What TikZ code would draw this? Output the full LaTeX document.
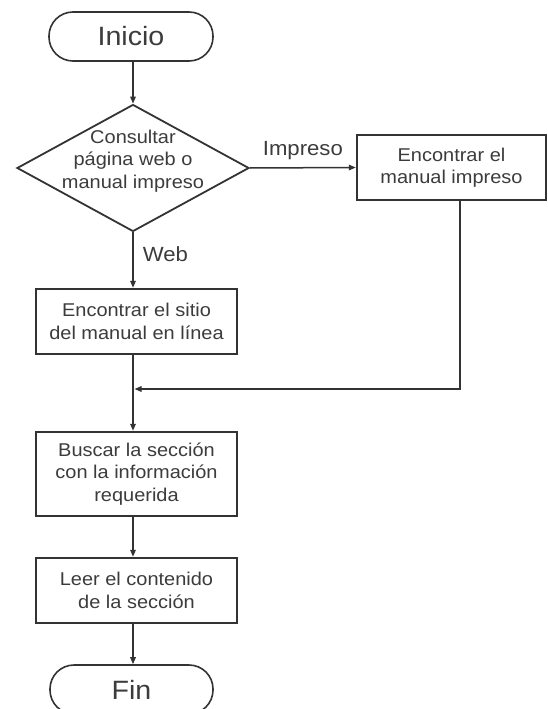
\documentclass[tikz,border=0pt]{standalone}
\usepackage{fontspec}
\setmainfont{Liberation Sans}[FakeStretch=1.08]
\usetikzlibrary{shapes.geometric,arrows.meta}
\definecolor{ink}{HTML}{333333}
\definecolor{txt}{HTML}{3C3C3C}
\begin{document}
\begin{tikzpicture}[x=1pt,y=-1pt,
  every node/.style={text=txt},
  terminal/.style={draw=ink,line width=1.6pt,rounded corners=24pt,
    minimum width=164pt,minimum height=49pt,inner sep=0pt,
    font=\fontsize{26.5}{30}\selectfont},
  process/.style={draw=ink,line width=2.4pt,inner sep=0pt,align=center,
    font=\fontsize{18.5}{22.5}\selectfont},
  decision/.style={draw=ink,line width=1.8pt,diamond,inner sep=0pt,
    minimum width=232pt,minimum height=127pt},
  btext/.style={align=center,inner sep=0pt,font=\fontsize{18.5}{22.5}\selectfont},
  lbl/.style={inner sep=0pt,font=\fontsize{20.5}{24}\selectfont},
  flow/.style={draw=ink,line width=1.5pt,-{Triangle[length=7pt,width=5.5pt]}}]
\useasboundingbox[fill=white] (0,0) rectangle (548,709);

% start and decision
\node[terminal] (ini) at (131,36.5) {Inicio};
\node[decision] (dec) at (133,168) {};
\node[btext] (dectext) at (133,161) {Consultar\\página web o\\manual impreso};

% printed-manual branch
\node[process,minimum width=189pt,minimum height=65pt] (impr) at (451.5,167.5)
  {Encontrar el\\manual impreso};

% main column
\node[process,minimum width=201pt,minimum height=65pt] (web) at (136.5,321.5)
  {Encontrar el sitio\\del manual en línea};
\node[process,minimum width=201pt,minimum height=84pt] (busc) at (136.5,474)
  {Buscar la sección\\con la información\\requerida};
\node[process,minimum width=201pt,minimum height=65pt] (leer) at (136.5,590.5)
  {Leer el contenido\\de la sección};
\node[terminal,minimum width=163pt] (fin) at (131.5,689.5) {Fin};

\coordinate (join) at (134.5,389);

% connectors
\draw[flow] (ini.south -| dec.north) -- (dec.north);
\draw[flow] (dec.east) -- (impr.west) node[lbl,midway,above=7pt] (limp) {Impreso};
\draw[flow] (dec.south) -- (dec.south |- web.north) node[lbl,pos=0.4,right=9pt] (lweb) {Web};
\draw[flow] (dec.south |- web.south) -- (dec.south |- busc.north);
\draw[flow] ([xshift=8.5pt]impr.south) |- (join);
\draw[flow] (dec.south |- busc.south) -- (dec.south |- leer.north);
\draw[flow] (dec.south |- leer.south) -- (dec.south |- fin.north);
\end{tikzpicture}
\end{document}
